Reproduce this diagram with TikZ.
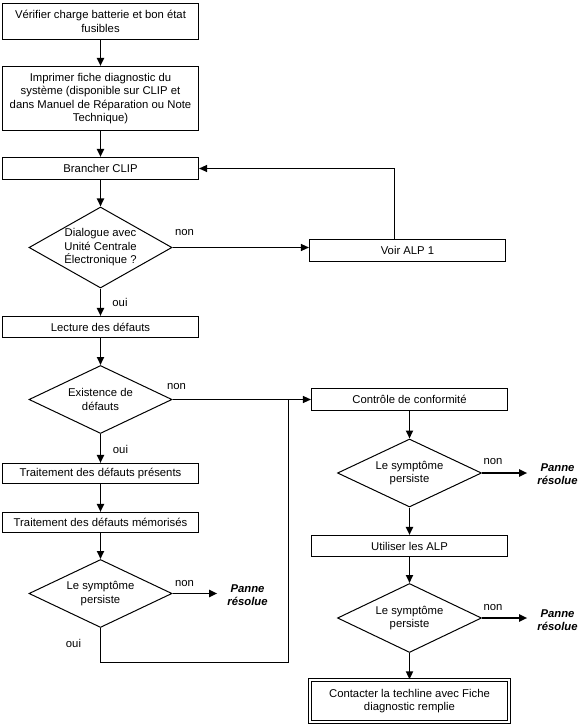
\documentclass[tikz,border=0pt]{standalone}
\usepackage{fontspec}
\setmainfont{Liberation Sans}
\usepackage{tikz}
\usetikzlibrary{arrows.meta,shapes.geometric}
\usetikzlibrary{positioning}
\tikzset{
    box/.style={
           rectangle,
           draw=black, line width=1.1pt,
           minimum width=196pt,
           minimum height=21pt,
           inner sep=0pt,
           align=center,
           },
    decision/.style={
           diamond,
           draw=black, line width=1pt,
           minimum width=143pt,
           minimum height=68pt,
           inner sep=0pt,
           },
    answer/.style={inner sep=0pt},
    outcome/.style={
           font=\fontsize{11.3}{13}\selectfont\bfseries\itshape,
           align=center,
           inner xsep=10pt, inner ysep=0pt,
           },
    flow/.style={->, line width=1.8pt},
    link/.style={->, line width=1.1pt},
    merge/.style={line width=1pt},
}

\begin{document}
\begin{tikzpicture}[x=1pt,y=-1pt,>={Triangle[length=8pt,width=7pt]},
  font=\fontsize{11.3}{13.5}\selectfont]

 % frame of the chart
 \useasboundingbox (0,0) rectangle (580,727);

 % left column: checks and reading of faults
 \node[box, minimum height=36pt] (VERIF) at (100.5,21.5)
 {Vérifier charge batterie et bon état\\fusibles};

 \node[box,
  below of=VERIF,
  node distance=77pt,	% distance between centers
  minimum height=64pt] (PRINT)
 {Imprimer fiche diagnostic du\\système (disponible sur CLIP et\\dans Manuel de Réparation ou Note\\Technique)};

 \node[box, below of=PRINT, node distance=70pt, minimum height=22pt] (CLIP)
 {Brancher CLIP};

 % diamonds keep their size, text sits in a label
 \node[decision,
  below of=CLIP,
  node distance=79pt,
  minimum height=81pt,
  label={[align=center]center:{Dialogue avec\\Unité Centrale\\Électronique ?}}] (DIAL) {};

 \node[box,
  right of=DIAL,
  node distance=307pt,
  yshift=-3pt,
  minimum height=22pt] (ALP)
 {Voir ALP 1};

 \node[box, below of=DIAL, node distance=79.5pt] (READ) {Lecture des défauts};

 \node[decision,
  below of=READ,
  node distance=72.5pt,
  label={[align=center]center:{Existence de\\défauts}}] (EXIST) {};

 \node[box, below of=EXIST, node distance=74pt, minimum height=20pt] (PRES)
 {Traitement des défauts présents};

 \node[box, below of=PRES, node distance=49pt, minimum height=20pt] (MEM)
 {Traitement des défauts mémorisés};

 \node[decision,
  below of=MEM,
  node distance=71pt,
  label={[align=center]center:{Le symptôme\\persiste}}] (SYMA) {};

 \node[outcome, right of=SYMA, node distance=147pt, yshift=-2pt] (PANA)
 {Panne\\résolue};

 % right column: conformity and ALP
 \node[box, right of=EXIST, node distance=309pt, minimum height=22pt] (CONF)
 {Contrôle de conformité};

 \node[decision,
  below of=CONF,
  node distance=73.5pt,
  minimum width=144pt,
  label={[align=center]center:{Le symptôme\\persiste}}] (SYMB) {};

 \node[outcome, right of=SYMB, node distance=148pt, yshift=-1.5pt] (PANB)
 {Panne\\résolue};

 \node[box, below of=SYMB, node distance=73pt] (USE)
 {Utiliser les ALP};

 \node[decision,
  below of=USE,
  node distance=72pt,
  minimum width=144pt,
  minimum height=69pt,
  label={[align=center]center:{Le symptôme\\persiste}}] (SYMC) {};

 \node[outcome, right of=SYMC, node distance=148pt, yshift=-2pt] (PANC)
 {Panne\\résolue};

 \node[box,
  below of=SYMC,
  node distance=83pt,
  double, double distance=2pt, line width=0.8pt,
  minimum width=199.5pt,
  minimum height=42.5pt] (CALL)
 {Contacter la techline avec Fiche\\diagnostic remplie};

 % answers next to the diamonds
 \node[answer, above=11.5pt of DIAL.east, xshift=12pt] (NONA) {non};
 \node[answer, below=10pt of DIAL.south, xshift=19.5pt] (OUIA) {oui};
 \node[answer, above=10pt of EXIST.east, xshift=4pt] (NONB) {non};
 \node[answer, below=11pt of EXIST.south, xshift=20pt] (OUIB) {oui};
 \node[answer, above=6.5pt of SYMA.east, xshift=12pt] (NONC) {non};
 \node[answer, below=11.5pt of SYMA.south, xshift=-27pt] (OUIC) {oui};
 \node[answer, above=8pt of SYMB.east, xshift=11pt] (NOND) {non};
 \node[answer, above=7pt of SYMC.east, xshift=11pt] (NONE) {non};

 % corners of the line that joins the "non" branch
 \coordinate[right of=EXIST, node distance=188pt] (MERGE);
 \coordinate[below of=SYMA, node distance=69pt] (BEND);

 % main flow
 \path
 (VERIF) edge[flow] (PRINT)
 (PRINT) edge[flow] (CLIP)
 (CLIP)  edge[flow] (DIAL)
 (DIAL)  edge[flow] (READ)
 (READ)  edge[flow] (EXIST)
 (EXIST) edge[flow] (PRES)
 (PRES)  edge[flow] (MEM)
 (MEM)   edge[flow] (SYMA)
 (CONF)  edge[flow] (SYMB)
 (SYMB)  edge[flow] (USE)
 (USE)   edge[flow] (SYMC)
 (SYMC)  edge[flow] (CALL)
 (SYMA.east) edge[flow] (SYMA.east -| PANA.west)
 (SYMB.east) edge[flow] (SYMB.east -| PANB.west)
 (SYMC.east) edge[flow] (SYMC.east -| PANC.west)
 (DIAL.east)  edge[link] (DIAL.east -| ALP.west)
 (EXIST.east) edge[link] (CONF.west |- EXIST.east);

 % back to CLIP, and the "oui" branch joining the conformity check
 \draw[link] ([xshift=-13pt]ALP.north) |- (CLIP.east);
 \draw[merge] (SYMA.south) -- (BEND) -| (MERGE);

\end{tikzpicture}
\end{document}
